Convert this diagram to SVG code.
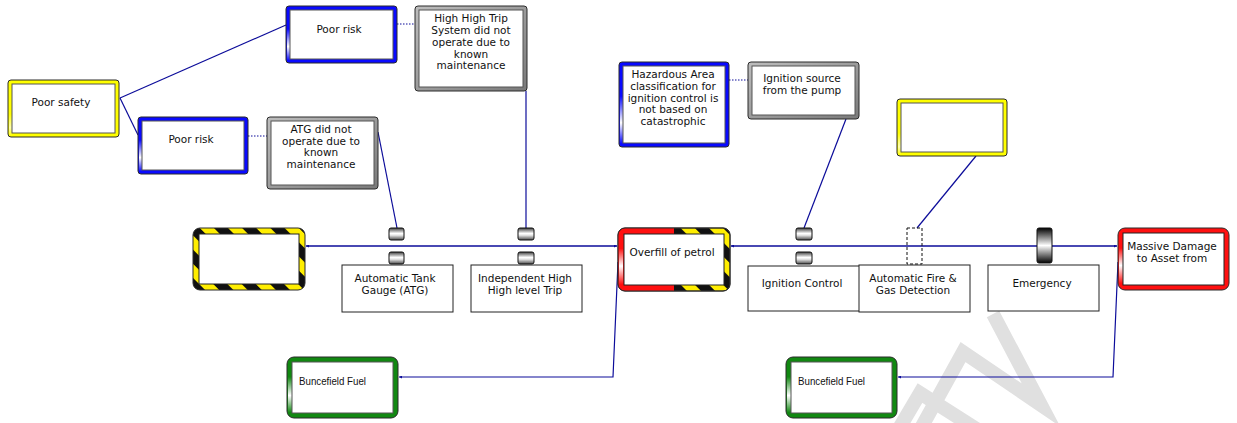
<svg xmlns="http://www.w3.org/2000/svg" width="1237" height="423" viewBox="0 0 1237 423">
  <style>
    text { font-family: "DejaVu Sans", Verdana, sans-serif; font-size: 10.5px; fill: #111; text-anchor: middle; }
    .small { font-family: "Liberation Sans", Arial, sans-serif; font-size: 11px; text-anchor: start; }
    .edge { fill: none; stroke: #0c0c9a; stroke-width: 1.2; }
    .dot { fill: none; stroke: #0c0c9a; stroke-width: 1.2; stroke-dasharray: 1.5 1.5; }
    .outer { stroke: #2a2a2a; stroke-width: 1; }
    .inner { fill: #fff; stroke: #555; stroke-width: 1; }
    .plain { fill: #fff; stroke: #222; stroke-width: 1; }
    .barrier { fill: url(#barGrad); stroke: #111; stroke-width: 1; }
    .wm { fill: none; stroke: #e0e0e0; stroke-width: 14; stroke-linejoin: miter; stroke-miterlimit: 10; }
  </style>
  <defs>
    <pattern id="hazard" width="20" height="20" patternUnits="userSpaceOnUse" patternTransform="rotate(-45)">
      <rect width="20" height="20" fill="#111"/>
      <rect width="10" height="20" fill="#ffee00"/>
    </pattern>
    <linearGradient id="barGrad" x1="0" y1="0" x2="0" y2="1">
      <stop offset="0" stop-color="#3c3c3c"/>
      <stop offset="0.45" stop-color="#ffffff"/>
      <stop offset="0.6" stop-color="#e8e8e8"/>
      <stop offset="1" stop-color="#4a4a4a"/>
    </linearGradient>
    <linearGradient id="emGrad" x1="0" y1="0" x2="0" y2="1">
      <stop offset="0" stop-color="#000"/>
      <stop offset="0.5" stop-color="#fff"/>
      <stop offset="1" stop-color="#000"/>
    </linearGradient>
    <linearGradient id="blueSide" x1="0" y1="0" x2="0" y2="1">
      <stop offset="0" stop-color="#0a0aff"/>
      <stop offset="0.4" stop-color="#0a0aff"/>
      <stop offset="0.72" stop-color="#ffffff"/>
      <stop offset="0.97" stop-color="#0a0aff"/>
    </linearGradient>
    <linearGradient id="redSide" x1="0" y1="0" x2="0" y2="1">
      <stop offset="0" stop-color="#ff1010"/>
      <stop offset="0.3" stop-color="#ff1010"/>
      <stop offset="0.62" stop-color="#ffffff"/>
      <stop offset="0.95" stop-color="#ff1010"/>
    </linearGradient>
    <linearGradient id="greenSide" x1="0" y1="0" x2="0" y2="1">
      <stop offset="0" stop-color="#118811"/>
      <stop offset="0.3" stop-color="#118811"/>
      <stop offset="0.65" stop-color="#ffffff"/>
      <stop offset="0.97" stop-color="#118811"/>
    </linearGradient>
    <linearGradient id="yellowSide" x1="0" y1="0" x2="0" y2="1">
      <stop offset="0" stop-color="#ffff00"/>
      <stop offset="0.6" stop-color="#ffff00"/>
      <stop offset="0.85" stop-color="#ffffb0"/>
      <stop offset="1" stop-color="#ffff00"/>
    </linearGradient>
    <linearGradient id="greyBand" x1="0" y1="0" x2="1" y2="1">
      <stop offset="0" stop-color="#bdbdbd"/>
      <stop offset="1" stop-color="#7a7a7a"/>
    </linearGradient>
    <clipPath id="ovLeft"><rect x="617" y="227" width="57" height="65"/></clipPath>
    <marker id="tip" viewBox="0 0 3 3" refX="3" refY="1.5" markerWidth="3" markerHeight="3" orient="auto" markerUnits="userSpaceOnUse">
      <path d="M0,0 L3,1.5 L0,3 z" fill="#0c0c9a"/>
    </marker>
  </defs>

  <rect width="1237" height="423" fill="#fff"/>

  <!-- background watermark strokes -->
  <g id="watermark">
    <polyline class="wm" points="920,430 963,352 1041,405 993,314"/>
    <polyline class="wm" points="897,432 920,393 978,430"/>
  </g>

  <!-- connectors -->
  <g id="connectors">
    <path class="edge" d="M120,98 L286,25"/>
    <path class="edge" d="M120,98 L138,135"/>
    <path class="dot" d="M397,24 L415,24"/>
    <path class="dot" d="M248,136 L267,136"/>
    <path class="dot" d="M729,80 L748,80"/>
    <path class="edge" d="M378,132 L397,228"/>
    <path class="edge" d="M526,91 L526,228"/>
    <path class="edge" d="M846,119 L804,228"/>
    <path class="edge" d="M976,156 L917,228"/>
    <path class="edge" d="M617,246 L306,246" marker-end="url(#tip)"/>
    <path class="edge" d="M306,246 L617,246" marker-end="url(#tip)"/>
    <path class="edge" d="M1117,246 L731,246" marker-end="url(#tip)"/>
    <path class="edge" d="M731,246 L1117,246" marker-end="url(#tip)"/>
    <path class="edge" d="M618,262 L613,377 L399,377" marker-end="url(#tip)"/>
    <path class="edge" d="M1118,262 L1113,377 L898,377" marker-end="url(#tip)"/>
  </g>

  <!-- hazard -->
  <g id="poor-safety">
    <rect class="outer" x="8" y="80" width="111" height="57" rx="3" fill="#ffff00"/>
    <rect x="9" y="81" width="3" height="55" fill="url(#yellowSide)"/>
    <rect class="inner" x="12" y="84" width="103" height="49"/>
    <text x="61" y="106">Poor safety</text>
  </g>

  <g id="poor-risk-1">
    <rect class="outer" x="286" y="6" width="111" height="57" rx="3" fill="#0a0aff"/>
    <rect x="287" y="7" width="3" height="55" fill="url(#blueSide)"/>
    <rect class="inner" x="290" y="10" width="103" height="49"/>
    <text x="339" y="33">Poor risk</text>
  </g>

  <g id="poor-risk-2">
    <rect class="outer" x="138" y="117" width="110" height="57" rx="3" fill="#0a0aff"/>
    <rect x="139" y="118" width="3" height="55" fill="url(#blueSide)"/>
    <rect class="inner" x="142" y="121" width="102" height="49"/>
    <text x="191" y="143">Poor risk</text>
  </g>

  <g id="atg-failure">
    <rect class="outer" x="267" y="117" width="111" height="72" rx="3" fill="url(#greyBand)"/>
    <rect class="inner" x="271" y="121" width="103" height="64"/>
    <text x="321" y="133">ATG did not</text>
    <text x="321" y="145">operate due to</text>
    <text x="321" y="156">known</text>
    <text x="321" y="168">maintenance</text>
  </g>

  <g id="hhts-failure">
    <rect class="outer" x="415" y="6" width="112" height="85" rx="3" fill="url(#greyBand)"/>
    <rect class="inner" x="419" y="10" width="104" height="77"/>
    <text x="471" y="22">High High Trip</text>
    <text x="471" y="34">System did not</text>
    <text x="471" y="46">operate due to</text>
    <text x="471" y="58">known</text>
    <text x="471" y="69">maintenance</text>
  </g>

  <g id="hazardous-area">
    <rect class="outer" x="619" y="62" width="110" height="85" rx="3" fill="#0a0aff"/>
    <rect x="620" y="63" width="3" height="83" fill="url(#blueSide)"/>
    <rect class="inner" x="623" y="66" width="102" height="77"/>
    <text x="673" y="78">Hazardous Area</text>
    <text x="673" y="90">classification for</text>
    <text x="673" y="102">ignition control is</text>
    <text x="673" y="113">not based on</text>
    <text x="673" y="125">catastrophic</text>
  </g>

  <g id="ignition-source">
    <rect class="outer" x="748" y="62" width="111" height="57" rx="3" fill="url(#greyBand)"/>
    <rect class="inner" x="752" y="66" width="103" height="49"/>
    <text x="802" y="82">Ignition source</text>
    <text x="802" y="94">from the pump</text>
  </g>

  <g id="blank-factor">
    <rect class="outer" x="897" y="99" width="110" height="57" rx="3" fill="#ffff00"/>
    <rect x="898" y="100" width="3" height="55" fill="url(#yellowSide)"/>
    <rect class="inner" x="901" y="103" width="102" height="49"/>
  </g>

  <!-- threat -->
  <g id="threat">
    <rect class="outer" x="193" y="228" width="112" height="62" rx="7" fill="url(#hazard)"/>
    <rect class="plain" x="199" y="234" width="100" height="50"/>
  </g>

  <!-- top event -->
  <g id="top-event">
    <rect class="outer" x="618" y="228" width="112" height="63" rx="7" fill="url(#hazard)"/>
    <rect x="618" y="228" width="112" height="63" rx="7" fill="#ff1010" clip-path="url(#ovLeft)"/>
    <rect x="619" y="232" width="4" height="55" fill="url(#redSide)"/>
    <rect x="618" y="228" width="112" height="63" rx="7" fill="none" stroke="#2a2a2a"/>
    <rect class="plain" x="624" y="234" width="100" height="51"/>
    <text x="672" y="256">Overfill of petrol</text>
  </g>

  <!-- consequence -->
  <g id="consequence">
    <rect class="outer" x="1118" y="228" width="111" height="62" rx="7" fill="#ff1010"/>
    <rect x="1119" y="232" width="4" height="54" fill="url(#redSide)"/>
    <rect class="plain" x="1123" y="233" width="101" height="52"/>
    <text x="1172" y="250">Massive Damage</text>
    <text x="1172" y="262">to Asset from</text>
  </g>

  <!-- barriers -->
  <g id="barrier-atg">
    <rect class="barrier" x="389" y="228" width="15" height="12" rx="2"/>
    <rect class="barrier" x="389" y="252" width="15" height="12" rx="2"/>
    <rect class="plain" x="342" y="265" width="111" height="47"/>
    <text x="395" y="282">Automatic Tank</text>
    <text x="395" y="294">Gauge (ATG)</text>
  </g>

  <g id="barrier-hh-trip">
    <rect class="barrier" x="518" y="228" width="16" height="12" rx="2"/>
    <rect class="barrier" x="518" y="252" width="16" height="12" rx="2"/>
    <rect class="plain" x="471" y="265" width="111" height="47"/>
    <text x="525" y="282">Independent High</text>
    <text x="525" y="294">High level Trip</text>
  </g>

  <g id="barrier-ignition">
    <rect class="barrier" x="796" y="228" width="16" height="12" rx="2"/>
    <rect class="barrier" x="796" y="252" width="16" height="12" rx="2"/>
    <rect class="plain" x="748" y="266" width="112" height="45"/>
    <text x="802" y="287">Ignition Control</text>
  </g>

  <g id="barrier-fire-gas">
    <rect x="907" y="228" width="15" height="36" fill="none" stroke="#111" stroke-dasharray="3 2"/>
    <rect class="plain" x="859" y="265" width="111" height="47"/>
    <text x="913" y="282">Automatic Fire &amp;</text>
    <text x="913" y="294">Gas Detection</text>
  </g>

  <g id="barrier-emergency">
    <rect x="1037" y="228" width="15" height="35" rx="2" fill="url(#emGrad)" stroke="#111"/>
    <rect class="plain" x="988" y="265" width="111" height="46"/>
    <text x="1042" y="287">Emergency</text>
  </g>

  <!-- organisations -->
  <g id="buncefield-1">
    <rect class="outer" x="287" y="357" width="111" height="61" rx="7" fill="#118811"/>
    <rect x="288" y="361" width="4" height="53" fill="url(#greenSide)"/>
    <rect class="inner" x="292" y="362" width="101" height="51"/>
    <text class="small" x="299" y="385" textLength="67" lengthAdjust="spacingAndGlyphs">Buncefield Fuel</text>
  </g>

  <g id="buncefield-2">
    <rect class="outer" x="786" y="357" width="111" height="61" rx="7" fill="#118811"/>
    <rect x="787" y="361" width="4" height="53" fill="url(#greenSide)"/>
    <rect class="inner" x="791" y="362" width="101" height="51"/>
    <text class="small" x="798" y="385" textLength="67" lengthAdjust="spacingAndGlyphs">Buncefield Fuel</text>
  </g>
</svg>
